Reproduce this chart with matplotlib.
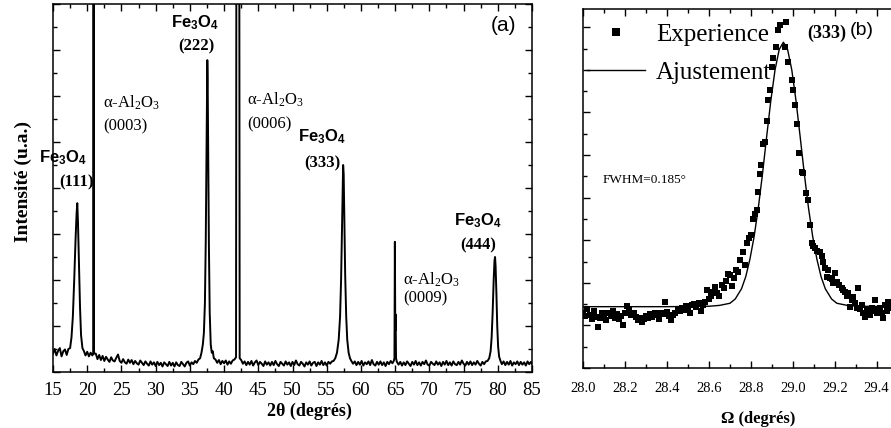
import matplotlib
matplotlib.use("Agg")
import matplotlib.pyplot as plt
from matplotlib.ticker import MultipleLocator

# ---- (a) XRD theta-2theta scan, intensity in arbitrary units ----
xrd_2theta = [
    15.0, 15.25, 15.5, 15.75, 16.0, 16.25, 16.5, 16.75, 17.0, 17.25,
    17.5, 17.7, 17.9, 18.1, 18.3, 18.45, 18.55, 18.65, 18.8, 18.95, 19.1, 19.3,
    19.5, 19.75, 20.0, 20.25, 20.5, 20.75,
    20.88, 20.93, 20.98,
    21.25, 21.5, 21.75, 22.0, 22.25, 22.5, 22.75, 23.0, 23.25, 23.5, 23.75,
    24.0, 24.25, 24.5, 24.75, 25.0, 25.25, 25.5, 25.75, 26.0, 26.25, 26.5,
    26.75, 27.0, 27.25, 27.5, 27.75, 28.0, 28.25, 28.5, 28.75, 29.0, 29.25,
    29.5, 29.75, 30.0, 30.25, 30.5, 30.75, 31.0, 31.25, 31.5, 31.75, 32.0,
    32.25, 32.5, 32.75, 33.0, 33.25, 33.5, 33.75, 34.0, 34.25, 34.5, 34.75,
    35.0, 35.25, 35.5, 35.75, 36.0, 36.25, 36.5,
    36.7, 36.9, 37.05, 37.2, 37.32, 37.42, 37.5, 37.55, 37.6, 37.68, 37.78,
    37.9, 38.05, 38.2, 38.35, 38.5,
    38.75, 39.0, 39.25, 39.5, 39.75, 40.0, 40.25, 40.5, 40.75, 41.0, 41.25, 41.5,
    41.75, 41.8, 42.22, 42.28,
    42.5, 42.75, 43.0, 43.25, 43.5, 43.75, 44.0, 44.25, 44.5, 44.75, 45.0,
    45.25, 45.5, 45.75, 46.0, 46.25, 46.5, 46.75, 47.0, 47.25, 47.5, 47.75,
    48.0, 48.25, 48.5, 48.75, 49.0, 49.25, 49.5, 49.75, 50.0, 50.25, 50.5,
    50.75, 51.0, 51.25, 51.5, 51.75, 52.0, 52.25, 52.5, 52.75, 53.0, 53.25,
    53.5, 53.75, 54.0, 54.25, 54.5, 54.75, 55.0, 55.25, 55.5, 55.75, 56.0,
    56.25, 56.5, 56.75, 56.95, 57.1, 57.22, 57.32, 57.4, 57.48, 57.58, 57.7,
    57.85, 58.0, 58.2, 58.4, 58.6,
    58.85, 59.1, 59.35, 59.6, 59.85, 60.1, 60.35, 60.6, 60.85, 61.1, 61.35,
    61.6, 61.85, 62.1, 62.35, 62.6, 62.85, 63.1, 63.35, 63.6, 63.85, 64.1,
    64.35, 64.6, 64.8,
    64.9, 64.96, 65.02, 65.07, 65.13, 65.25,
    65.5, 65.75, 66.0, 66.25, 66.5, 66.75, 67.0, 67.25, 67.5, 67.75, 68.0,
    68.25, 68.5, 68.75, 69.0, 69.25, 69.5, 69.75, 70.0, 70.25, 70.5, 70.75,
    71.0, 71.25, 71.5, 71.75, 72.0, 72.25, 72.5, 72.75, 73.0, 73.25, 73.5,
    73.75, 74.0, 74.25, 74.5, 74.75, 75.0, 75.25, 75.5, 75.75, 76.0, 76.25,
    76.5, 76.75, 77.0, 77.25, 77.5, 77.75, 78.0, 78.25, 78.5,
    78.75, 78.95, 79.1, 79.25, 79.4, 79.52, 79.6, 79.68, 79.8, 79.92, 80.05,
    80.2, 80.4,
    80.6, 80.85, 81.1, 81.35, 81.6, 81.85, 82.1, 82.35, 82.6, 82.85, 83.1,
    83.35, 83.6, 83.85, 84.1, 84.35, 84.6, 84.85, 85.0,
]
xrd_counts = [
    0.40, 0.50, 0.36, 0.46, 0.52, 0.34, 0.45, 0.49, 0.37, 0.50,
    0.52, 0.75, 1.2, 2.0, 2.9, 3.45, 3.67, 3.25, 2.3, 1.4, 0.8, 0.52,
    0.46, 0.36, 0.44, 0.34, 0.42, 0.36,
    0.40, 10.0, 0.40,
    0.40, 0.28, 0.37, 0.26, 0.35, 0.24, 0.33, 0.27, 0.22, 0.32, 0.25,
    0.23, 0.31, 0.38, 0.24, 0.20, 0.28, 0.21, 0.18, 0.27, 0.20, 0.26,
    0.17, 0.24, 0.19, 0.16, 0.25, 0.20, 0.15, 0.23, 0.18, 0.14, 0.23,
    0.16, 0.21, 0.13, 0.22, 0.15, 0.20, 0.12, 0.21, 0.17, 0.13, 0.22,
    0.14, 0.20, 0.12, 0.21, 0.15, 0.13, 0.22, 0.17, 0.12, 0.20, 0.23,
    0.14, 0.21, 0.17, 0.24, 0.20, 0.27, 0.30,
    0.42, 0.60, 0.85, 1.5, 2.8, 4.6, 6.3, 6.78, 6.4, 4.8, 2.8,
    1.3, 0.60, 0.42, 0.45, 0.30,
    0.27, 0.20, 0.26, 0.17, 0.24, 0.19, 0.25, 0.16, 0.23, 0.18, 0.25, 0.27,
    0.32, 10.0, 10.0, 0.30,
    0.26, 0.18, 0.23, 0.15, 0.22, 0.16, 0.24, 0.14, 0.21, 0.25, 0.15,
    0.22, 0.18, 0.13, 0.23, 0.16, 0.21, 0.14, 0.22, 0.15, 0.24, 0.17,
    0.13, 0.22, 0.18, 0.14, 0.23, 0.16, 0.21, 0.13, 0.22, 0.15, 0.25,
    0.17, 0.14, 0.22, 0.18, 0.12, 0.21, 0.16, 0.23, 0.14, 0.20, 0.22,
    0.13, 0.21, 0.16, 0.24, 0.15, 0.21, 0.14, 0.22, 0.18, 0.23, 0.24,
    0.30, 0.42, 0.70, 1.2, 2.0, 3.0, 3.9, 4.5, 4.3, 3.3, 2.1,
    1.2, 0.70, 0.42, 0.30, 0.24,
    0.18, 0.23, 0.15, 0.22, 0.16, 0.24, 0.14, 0.21, 0.17, 0.23, 0.15,
    0.26, 0.17, 0.14, 0.22, 0.16, 0.23, 0.15, 0.21, 0.13, 0.22, 0.17,
    0.24, 0.19, 0.24,
    0.30, 2.83, 0.90, 1.25, 0.30, 0.22,
    0.16, 0.22, 0.14, 0.21, 0.15, 0.23, 0.18, 0.13, 0.22, 0.16, 0.24,
    0.15, 0.21, 0.14, 0.22, 0.17, 0.25, 0.16, 0.14, 0.22, 0.18, 0.15,
    0.23, 0.16, 0.21, 0.13, 0.22, 0.16, 0.24, 0.15, 0.21, 0.14, 0.23,
    0.17, 0.15, 0.22, 0.16, 0.25, 0.18, 0.14, 0.22, 0.16, 0.23, 0.15,
    0.21, 0.16, 0.24, 0.18, 0.14, 0.22, 0.17, 0.23, 0.24,
    0.30, 0.45, 0.75, 1.3, 2.0, 2.42, 2.5, 2.3, 1.7, 1.0, 0.55,
    0.33, 0.24,
    0.17, 0.23, 0.15, 0.22, 0.16, 0.24, 0.14, 0.21, 0.17, 0.23, 0.15,
    0.22, 0.16, 0.21, 0.14, 0.23, 0.17, 0.22, 0.18,
]

# ---- (b) rocking curve of Fe3O4 (333) ----
rock_omega = [
    28.00, 28.01, 28.02, 28.03, 28.04, 28.05, 28.06, 28.07, 28.08, 28.09,
    28.10, 28.11, 28.12, 28.13, 28.14, 28.15, 28.16, 28.17, 28.18, 28.19,
    28.20, 28.21, 28.22, 28.23, 28.24, 28.25, 28.26, 28.27, 28.28, 28.29,
    28.30, 28.31, 28.32, 28.33, 28.34, 28.35, 28.36, 28.37, 28.38, 28.39,
    28.40, 28.41, 28.42, 28.43, 28.44, 28.45, 28.46, 28.47, 28.48, 28.49,
    28.50, 28.51, 28.52, 28.53, 28.54, 28.55, 28.56, 28.57, 28.58, 28.59,
    28.60, 28.61, 28.62, 28.63, 28.64, 28.65, 28.66, 28.67, 28.68, 28.69,
    28.70, 28.71, 28.72, 28.73, 28.74, 28.75, 28.76, 28.77, 28.78, 28.79,
    28.80, 28.81, 28.82, 28.83, 28.835, 28.845, 28.85, 28.86, 28.867, 28.875,
    28.883, 28.89, 28.90, 28.907, 28.92, 28.93, 28.939, 28.963, 28.967, 28.978,
    28.995, 29.002, 29.01, 29.019, 29.031, 29.043, 29.05, 29.063, 29.074, 29.082,
    29.09, 29.098, 29.106, 29.115, 29.13, 29.138, 29.146, 29.155, 29.162, 29.17,
    29.178, 29.186, 29.194, 29.20, 29.21, 29.22, 29.233, 29.24, 29.249, 29.257,
    29.265, 29.273, 29.281, 29.289, 29.297, 29.305, 29.313, 29.321, 29.329, 29.337,
    29.345, 29.353, 29.36, 29.368, 29.377, 29.385, 29.392, 29.40, 29.408, 29.416,
    29.424, 29.432, 29.44, 29.448, 29.456, 29.464, 29.472,
]
rock_counts = [
    1.30, 1.22, 1.38, 1.25, 1.15, 1.33, 1.20, 0.97, 1.18, 1.28,
    1.24, 1.12, 1.30, 1.22, 1.35, 1.18, 1.26, 1.14, 1.21, 1.02,
    1.28, 1.46, 1.36, 1.25, 1.30, 1.20, 1.12, 1.18, 1.08, 1.15,
    1.22, 1.17, 1.26, 1.20, 1.28, 1.24, 1.16, 1.30, 1.27, 1.55,
    1.32, 1.21, 1.12, 1.25, 1.30, 1.38, 1.33, 1.42, 1.36, 1.45,
    1.40, 1.28, 1.47, 1.50, 1.44, 1.52, 1.35, 1.49, 1.55, 1.82,
    1.62, 1.70, 1.78, 1.90, 1.75, 1.68, 1.95, 1.88, 2.05, 2.20,
    2.18, 1.92, 2.11, 2.30, 2.26, 2.54, 2.73, 2.42, 2.93, 3.05,
    3.12, 3.51, 3.62, 3.71, 4.14, 4.55, 4.77, 5.27, 5.31, 5.80,
    6.29, 6.53, 7.07, 7.27, 7.54, 7.93, 8.05, 7.54, 8.13, 7.19,
    6.76, 6.53, 6.17, 5.74, 5.04, 4.61, 4.57, 4.10, 3.94, 3.36,
    2.93, 2.86, 2.81, 2.75, 2.73, 2.62, 2.50, 2.35, 2.14, 2.30,
    2.11, 2.08, 2.00, 2.22, 2.03, 1.95, 1.87, 1.82, 1.79, 1.70,
    1.75, 1.44, 1.60, 1.67, 1.52, 1.42, 1.87, 1.38, 1.48, 1.30,
    1.20, 1.33, 1.36, 1.25, 1.40, 1.35, 1.60, 1.28, 1.38, 1.40,
    1.30, 1.17, 1.48, 1.35, 1.56, 1.44, 1.40,
]

fit_omega = [
    28.00, 28.40, 28.60, 28.65, 28.70, 28.725, 28.755, 28.775, 28.795, 28.815,
    28.835, 28.855, 28.875, 28.895, 28.915, 28.935, 28.955, 28.975, 28.995,
    29.015, 29.035, 29.055, 29.075, 29.095, 29.115, 29.135, 29.155, 29.185,
    29.21, 29.26, 29.31, 29.50,
]
fit_counts = [
    1.44, 1.44, 1.45, 1.47, 1.52, 1.62, 1.86, 2.14, 2.55, 3.08,
    3.75, 4.55, 5.43, 6.28, 7.00, 7.48, 7.65, 7.48, 7.00,
    6.28, 5.43, 4.55, 3.75, 3.08, 2.55, 2.14, 1.86, 1.62,
    1.52, 1.47, 1.45, 1.44,
]

W, H = 891, 428
fig = plt.figure(figsize=(W / 100, H / 100), dpi=100)

serif = "Liberation Serif"
sans = "Liberation Sans"


def style_axes(ax):
    for s in ax.spines.values():
        s.set_linewidth(1.1)
    ax.tick_params(which="both", direction="in", top=True, right=True, width=1.0)
    ax.tick_params(which="major", length=5)
    ax.tick_params(which="minor", length=3)


# ---------------- panel (a) ----------------
ax1 = fig.add_axes([53 / W, 1 - 372 / H, 479 / W, 368 / H])
ax1.plot(xrd_2theta, xrd_counts, color="black", lw=1.4)
ax1.set_xlim(15, 85)
ax1.set_ylim(0, 8)
ax1.xaxis.set_major_locator(MultipleLocator(5))
ax1.xaxis.set_minor_locator(MultipleLocator(2.5))
ax1.yaxis.set_major_locator(MultipleLocator(1))
ax1.yaxis.set_minor_locator(MultipleLocator(0.5))
style_axes(ax1)
ax1.tick_params(axis="y", labelleft=False)
ax1.tick_params(axis="x", pad=7)
for lab in ax1.get_xticklabels():
    lab.set_fontfamily(serif)
    lab.set_fontsize(13.5)

fe = r"Fe$\mathregular{_3}$O$\mathregular{_4}$"
al = r"α-Al$\mathregular{_2}$O$\mathregular{_3}$"
fe_kw = dict(fontfamily=sans, fontweight="bold", fontsize=12, ha="center", va="center")
hkl_kw = dict(fontfamily=serif, fontweight="bold", fontsize=12, ha="center", va="center")
al_kw = dict(fontfamily=serif, fontsize=12, ha="left", va="center")

# (111)
ax1.text(16.39, 4.65, fe, **fe_kw)
ax1.text(18.43, 4.13, "(111)", **hkl_kw)
# (222)
ax1.text(35.75, 7.59, fe, **fe_kw)
ax1.text(35.97, 7.07, "(222)", **hkl_kw)
# (333)
ax1.text(54.38, 5.11, fe, **fe_kw)
ax1.text(54.31, 4.54, "(333)", **hkl_kw)
# (444)
ax1.text(77.11, 3.30, fe, **fe_kw)
ax1.text(77.11, 2.76, "(444)", **hkl_kw)
# sapphire substrate lines
ax1.text(22.31, 5.85, al, **al_kw)
ax1.text(22.31, 5.33, "(0003)", **al_kw)
ax1.text(43.35, 5.91, al, **al_kw)
ax1.text(43.35, 5.39, "(0006)", **al_kw)
ax1.text(66.15, 2.00, al, **al_kw)
ax1.text(66.15, 1.61, "(0009)", **al_kw)
ax1.text(80.9, 7.54, "(a)", fontfamily=sans, fontsize=15, ha="center", va="center")

fig.text(309 / W, 1 - 411 / H, "2θ (degrés)", fontfamily=serif, fontweight="bold",
         fontsize=13, ha="center", va="center")
fig.text(23 / W, 1 - 182 / H, "Intensité (u.a.)", fontfamily=serif, fontweight="bold",
         fontsize=14, ha="center", va="center", rotation=90)

# ---------------- panel (b) ----------------
ax2 = fig.add_axes([583.3 / W, 1 - 368 / H, 314.3 / W, 359 / H])
exp_pts, = ax2.plot(rock_omega, rock_counts, "s", color="black", ms=4.8,
                    mec="black", mew=0, label="Experience")
fit_line, = ax2.plot(fit_omega, fit_counts, color="black", lw=1.0, label="Ajustement")
ax2.set_xlim(28.0, 29.5)
ax2.set_ylim(0, 8.43)
ax2.xaxis.set_major_locator(MultipleLocator(0.2))
ax2.xaxis.set_minor_locator(MultipleLocator(0.1))
ax2.yaxis.set_major_locator(MultipleLocator(1))
ax2.yaxis.set_minor_locator(MultipleLocator(0.5))
style_axes(ax2)
ax2.tick_params(axis="y", labelleft=False)
ax2.tick_params(axis="x", pad=10)
for lab in ax2.get_xticklabels():
    lab.set_fontfamily(serif)
    lab.set_fontsize(10.5)

leg = ax2.legend(handles=[exp_pts, fit_line], loc="upper left",
                 bbox_to_anchor=(587 / W, 1 - 23.5 / H), bbox_transform=fig.transFigure,
                 frameon=False, borderpad=0, borderaxespad=0, handlelength=2.3,
                 handletextpad=0.45, labelspacing=0.62, markerscale=1.3,
                 prop=dict(family=serif, size=18))

ax2.text(28.094, 4.41, "FWHM=0.185°", fontfamily=serif, fontsize=9.5, ha="left", va="center")
ax2.text(29.068, 7.86, "(333)", fontfamily=serif, fontweight="bold", fontsize=13,
         ha="left", va="center")
ax2.text(29.273, 7.93, "(b)", fontfamily=sans, fontsize=14, ha="left", va="center")

fig.text(758 / W, 1 - 419 / H, "Ω (degrés)", fontfamily=serif, fontweight="bold",
         fontsize=12, ha="center", va="center")

fig.savefig("out.png", dpi=100)
